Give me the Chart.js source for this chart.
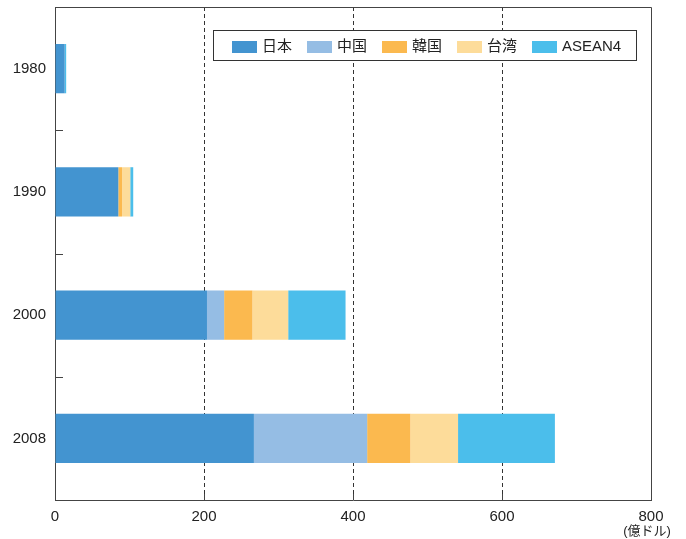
<!DOCTYPE html>
<html>
<head>
<meta charset="utf-8">
<script src="https://cdn.jsdelivr.net/npm/chart.js@4"></script>
<style>
  html, body { margin: 0; padding: 0; background: #fff; }
  #wrap { width: 686px; height: 539px; }
</style>
</head>
<body>
<div id="wrap"><canvas id="c" width="686" height="539"></canvas></div>
<script>
// Years shown on the category axis
const years = ['1980', '1990', '2000', '2008'];
// Values by origin (億ドル)
const japan  = [13, 85, 204, 267];
const china  = [0, 0, 23, 152];
const korea  = [0, 5, 38, 58];
const taiwan = [0, 11, 48, 64];
const asean4 = [2, 4, 77, 130];
// Value axis ticks
const xTicks = [0, 200, 400, 600, 800];
const seriesNames = ['日本', '中国', '韓国', '台湾', 'ASEAN4'];
const seriesColors = ['#4394D0', '#95BDE4', '#FBB94F', '#FDDC9A', '#4BBEEB'];

const FONT = "'Liberation Sans', 'Noto Sans CJK JP', sans-serif";
const INK = '#222';
const FRAME = '#444';

// Frame, inward tick marks, unit label and boxed legend
const decor = {
  id: 'decor',
  afterDatasetsDraw(chart) {
    const { ctx, chartArea: a, scales } = chart;
    const x = scales.x, y = scales.y;
    ctx.save();
    ctx.strokeStyle = FRAME;
    ctx.lineWidth = 1;
    ctx.setLineDash([]);
    // top and right edges of the frame
    ctx.beginPath();
    ctx.moveTo(a.left, a.top + 0.5);
    ctx.lineTo(a.right + 0.5, a.top + 0.5);
    ctx.lineTo(a.right + 0.5, a.bottom);
    ctx.stroke();
    // category boundary ticks on the left edge
    ctx.beginPath();
    for (let i = 0; i < years.length - 1; i++) {
      const py = Math.round((y.getPixelForValue(i) + y.getPixelForValue(i + 1)) / 2) + 0.5;
      ctx.moveTo(a.left, py);
      ctx.lineTo(a.left + 8, py);
    }
    // value ticks on the bottom edge
    xTicks.slice(1, -1).forEach(v => {
      const px = Math.round(x.getPixelForValue(v)) + 0.5;
      ctx.moveTo(px, a.bottom);
      ctx.lineTo(px, a.bottom - 6);
    });
    ctx.stroke();

    // unit label under the last tick
    ctx.fillStyle = INK;
    ctx.font = '13px ' + FONT;
    ctx.textAlign = 'center';
    ctx.textBaseline = 'middle';
    ctx.fillText('(億ドル)', a.right - 4, 531);

    // legend box
    const bx = a.left + 158, by = 30, bw = 423, bh = 30;
    ctx.fillStyle = '#fff';
    ctx.fillRect(bx, by, bw, bh);
    ctx.strokeStyle = '#333';
    ctx.strokeRect(bx + 0.5, by + 0.5, bw, bh);
    ctx.font = '15px ' + FONT;
    ctx.textAlign = 'left';
    chart.data.datasets.forEach((ds, i) => {
      const sx = bx + 19 + i * 75;
      ctx.fillStyle = ds.backgroundColor;
      ctx.fillRect(sx, by + 11, 25, 12);
      ctx.fillStyle = INK;
      ctx.fillText(ds.label, sx + 30, by + 17);
    });
    ctx.restore();
  }
};

const values = [japan, china, korea, taiwan, asean4];

new Chart(document.getElementById('c'), {
  type: 'bar',
  data: {
    labels: years,
    datasets: seriesNames.map((name, i) => ({
      label: name,
      data: values[i],
      backgroundColor: seriesColors[i],
      borderWidth: 0,
      barPercentage: 0.4,
      categoryPercentage: 1.0
    }))
  },
  options: {
    indexAxis: 'y',
    responsive: false,
    animation: false,
    layout: { padding: { top: 7, right: 35, left: 0, bottom: 0 } },
    plugins: {
      legend: { display: false },
      tooltip: { enabled: false }
    },
    scales: {
      x: {
        stacked: true,
        min: 0,
        max: 800,
        afterBuildTicks(scale) { scale.ticks = xTicks.map(v => ({ value: v })); },
        afterFit(scale) { scale.height = 39; scale.paddingLeft = 0; scale.paddingRight = 0; },
        ticks: {
          color: INK,
          font: { family: FONT, size: 15 },
          padding: 8,
          maxRotation: 0
        },
        grid: {
          drawTicks: false,
          color: ctx => (ctx.tick && (ctx.tick.value === 0 || ctx.tick.value === 800)) ? 'rgba(0,0,0,0)' : '#333',
          lineWidth: 1
        },
        border: { display: true, color: FRAME, width: 1, dash: [4, 3] }
      },
      y: {
        stacked: true,
        afterFit(scale) { scale.width = 55; scale.paddingTop = 0; scale.paddingBottom = 0; },
        ticks: {
          color: INK,
          font: { family: FONT, size: 15 },
          padding: 9
        },
        grid: { display: false, drawTicks: false },
        border: { display: true, color: FRAME, width: 1 }
      }
    }
  },
  plugins: [decor]
});
</script>
</body>
</html>
